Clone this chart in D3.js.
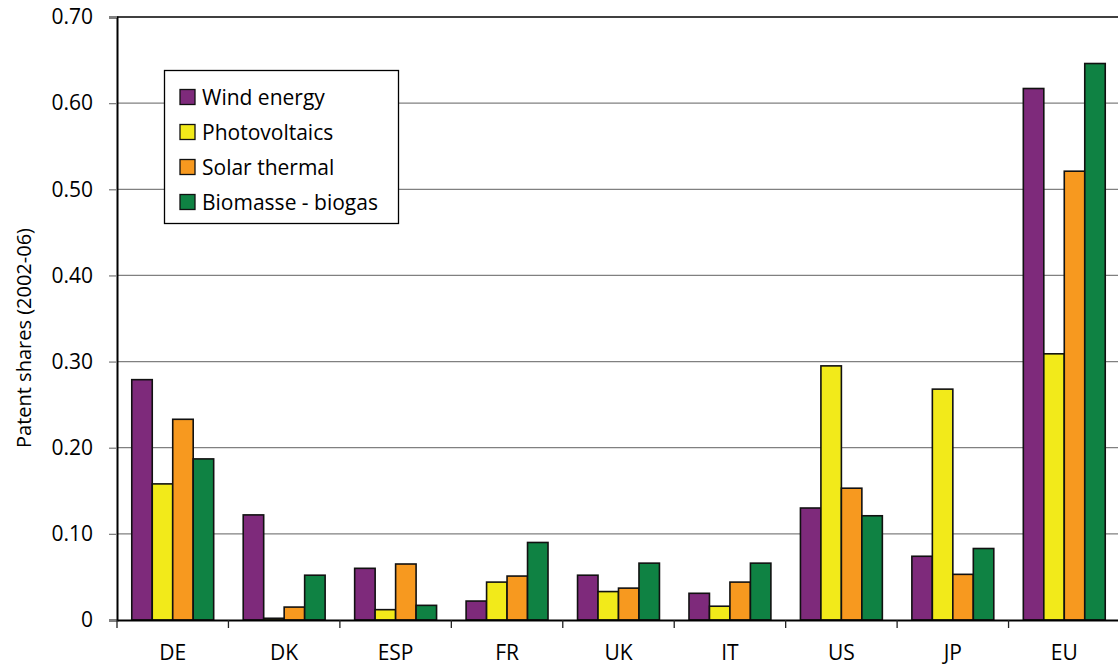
<!DOCTYPE html>
<html>
<head>
<meta charset="utf-8">
<script src="https://cdn.jsdelivr.net/npm/d3@7"></script>
<style>
  html, body { margin: 0; padding: 0; background: #fff; }
  svg { display: block; font-family: "Open Sans", Lato, sans-serif; }
</style>
</head>
<body>
<svg id="chart" width="1118" height="666"></svg>
<script>
// Patent shares by country and technology, 2002-06
const countries = ["DE", "DK", "ESP", "FR", "UK", "IT", "US", "JP", "EU"];
const seriesNames = ["Wind energy", "Photovoltaics", "Solar thermal", "Biomasse - biogas"];
const windEnergy    = [0.279, 0.122, 0.060, 0.022, 0.052, 0.031, 0.130, 0.074, 0.617];
const photovoltaics = [0.158, 0.002, 0.012, 0.044, 0.033, 0.016, 0.295, 0.268, 0.309];
const solarThermal  = [0.233, 0.015, 0.065, 0.051, 0.037, 0.044, 0.153, 0.053, 0.521];
const biomasse      = [0.187, 0.052, 0.017, 0.090, 0.066, 0.066, 0.121, 0.083, 0.646];
const yTicks = [0, 0.1, 0.2, 0.3, 0.4, 0.5, 0.6, 0.7];
const colors = ["#7e2a7b", "#f2ea1a", "#f7991f", "#0f8243"];

const seriesValues = [windEnergy, photovoltaics, solarThermal, biomasse];

(function () {
  const svg = d3.select("#chart");
  const plotLeft = 117, plotTop = 17, plotRight = 1120, plotBottom = 620;
  const fontFamily = "'Open Sans', Lato, sans-serif";

  const x = d3.scaleBand().domain(countries).range([plotLeft, plotRight]).paddingInner(0.265).paddingOuter(0.1325);
  const xGroup = d3.scaleBand().domain(countries).range([plotLeft, plotRight]);
  const xSub = d3.scaleBand().domain(seriesNames).range([0, x.bandwidth()]);
  const y = d3.scaleLinear().domain([0, 0.7]).range([plotBottom, plotTop]);

  // horizontal gridlines
  svg.append("g")
    .selectAll("line")
    .data(yTicks.filter(t => t > 0 && t < 0.7))
    .join("line")
    .attr("x1", plotLeft).attr("x2", plotRight)
    .attr("y1", d => y(d)).attr("y2", d => y(d))
    .attr("stroke", "#808080").attr("stroke-width", 1.3);

  // top border of plot area
  svg.append("line")
    .attr("x1", plotLeft).attr("x2", plotRight)
    .attr("y1", y(0.7)).attr("y2", y(0.7))
    .attr("stroke", "#000").attr("stroke-width", 1.3);

  // bars
  const groups = svg.append("g").selectAll("g")
    .data(countries)
    .join("g")
    .attr("transform", d => `translate(${x(d)},0)`);

  groups.selectAll("rect")
    .data((c, i) => seriesNames.map((s, k) => ({ s, k, v: seriesValues[k][i] })))
    .join("rect")
    .attr("x", d => xSub(d.s))
    .attr("width", xSub.bandwidth())
    .attr("y", d => y(d.v))
    .attr("height", d => y(0) - y(d.v))
    .attr("fill", d => colors[d.k])
    .attr("stroke", "#111")
    .attr("stroke-width", 1.6);

  // y axis
  const yAxis = d3.axisLeft(y)
    .tickValues(yTicks)
    .tickSize(8)
    .tickPadding(16)
    .tickFormat(d => d === 0 ? "0" : d3.format(".2f")(d));
  const yg = svg.append("g").attr("transform", `translate(${plotLeft},0)`).call(yAxis);
  yg.select(".domain").attr("stroke", "#000").attr("stroke-width", 2);
  yg.selectAll(".tick line").attr("stroke", "#808080").attr("stroke-width", 1.3);
  yg.selectAll(".tick text").attr("font-size", 21).attr("fill", "#000")
    .style("font-family", fontFamily);

  // x axis
  const xAxis = d3.axisBottom(xGroup).tickSize(0).tickPadding(0).tickFormat("");
  const xg = svg.append("g").attr("transform", `translate(0,${plotBottom})`).call(xAxis);
  xg.select(".domain").attr("stroke", "#000").attr("stroke-width", 2);
  xg.selectAll(".tick").remove();

  // category separators
  svg.append("g").selectAll("line")
    .data(countries)
    .join("line")
    .attr("x1", d => xGroup(d)).attr("x2", d => xGroup(d))
    .attr("y1", plotBottom).attr("y2", plotBottom + 8)
    .attr("stroke", "#222").attr("stroke-width", 1.3);

  // category labels
  svg.append("g").selectAll("text")
    .data(countries)
    .join("text")
    .attr("x", d => xGroup(d) + xGroup.bandwidth() / 2)
    .attr("y", 660)
    .attr("text-anchor", "middle")
    .attr("font-size", 21)
    .attr("fill", "#000")
    .style("font-family", fontFamily)
    .text(d => d);

  // y axis title
  svg.append("text")
    .attr("transform", `translate(31,338) rotate(-90)`)
    .attr("text-anchor", "middle")
    .attr("font-size", 20)
    .attr("fill", "#000")
    .style("font-family", fontFamily)
    .text("Patent shares (2002-06)");

  // legend
  const legend = svg.append("g");
  legend.append("rect")
    .attr("x", 164.5).attr("y", 70.5).attr("width", 234).attr("height", 153)
    .attr("fill", "#fff").attr("stroke", "#000").attr("stroke-width", 1.3);
  const items = legend.selectAll("g.item")
    .data(seriesNames)
    .join("g")
    .attr("class", "item")
    .attr("transform", (d, i) => `translate(180,${97 + i * 35})`);
  items.append("rect")
    .attr("x", 0).attr("y", -7.5).attr("width", 15).attr("height", 15)
    .attr("fill", (d, i) => colors[i])
    .attr("stroke", "#111").attr("stroke-width", 1.3);
  items.append("text")
    .attr("x", 22).attr("y", 7.5)
    .attr("font-size", 21)
    .attr("fill", "#000")
    .style("font-family", fontFamily)
    .text(d => d);
})();
</script>
</body>
</html>
